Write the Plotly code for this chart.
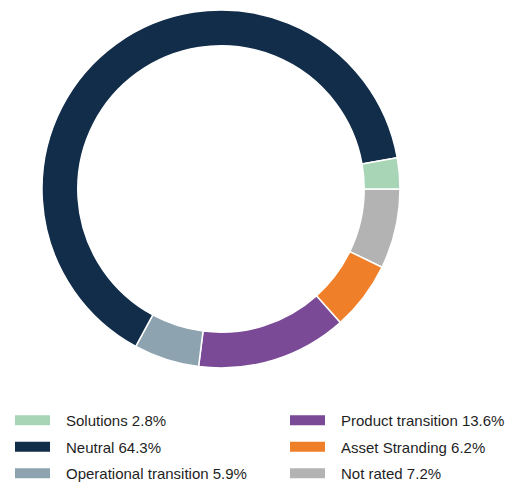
import plotly.graph_objects as go

# slice order (clockwise from 3 o'clock)
slice_labels = ["Not rated", "Asset Stranding", "Product transition",
                "Operational transition", "Neutral", "Solutions"]
slice_values = [7.2, 6.2, 13.6, 5.9, 64.3, 2.8]
slice_colors = ["#b3b3b3", "#f07f2a", "#7a4a97", "#8ea3b0", "#112d49", "#a8d5b5"]

# legend columns
legend_col1 = ["Solutions", "Neutral", "Operational transition"]
legend_col2 = ["Product transition", "Asset Stranding", "Not rated"]

val = dict(zip(slice_labels, slice_values))
col = dict(zip(slice_labels, slice_colors))

W, H = 509, 476  # page has an 8px body margin

fig = go.Figure()
fig.add_trace(go.Pie(
    labels=slice_labels, values=slice_values, sort=False,
    direction="clockwise", rotation=90, hole=0.80,
    marker=dict(colors=slice_colors, line=dict(color="white", width=1.5)),
    textinfo="none", hoverinfo="label+percent", showlegend=False,
    domain=dict(x=[34/W, 392/W], y=[116/H, 474/H]),
))
for lg, labs in (("legend", legend_col1), ("legend2", legend_col2)):
    for lab in labs:
        fig.add_trace(go.Scatter(
            x=[None], y=[None], mode="lines",
            line=dict(color=col[lab], width=12, dash="35px,60px"),
            name=f"{lab} {val[lab]}%", showlegend=True,
            legend=lg, legendgroup=lab,
        ))

leg_common = dict(orientation="v", yanchor="top", xanchor="left",
                  itemwidth=46, tracegroupgap=4, traceorder="grouped",
                  bgcolor="rgba(0,0,0,0)",
                  font=dict(family="Liberation Sans, Arial, sans-serif", size=15, color="#1f1f1f"))
fig.update_layout(
    width=W, height=H,
    margin=dict(l=0, r=0, t=0, b=0, autoexpand=False),
    paper_bgcolor="white", plot_bgcolor="white",
    xaxis=dict(visible=False), yaxis=dict(visible=False),
    font=dict(family="Liberation Sans, Arial, sans-serif", size=15, color="#1f1f1f"),
    legend=dict(x=2/W, y=1 - 396/H, **leg_common),
    legend2=dict(x=277/W, y=1 - 396/H, **leg_common),
)
fig.write_html("out.html")
